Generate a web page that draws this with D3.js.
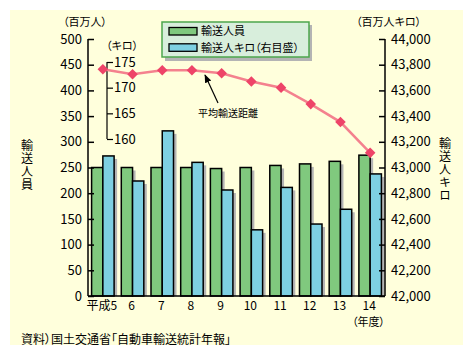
<!DOCTYPE html>
<html><head><meta charset="utf-8">
<script src="https://cdn.jsdelivr.net/npm/d3@7"></script>
<style>body{margin:0;background:#fff}svg{display:block}text{font-family:"Noto Sans CJK JP","Noto Sans",sans-serif;fill:#000}.p{font-feature-settings:"palt"}</style>
</head><body>
<svg id="c" width="473" height="362"></svg>
<script>
const categories = ["平成5","6","7","8","9","10","11","12","13","14"];
const passengers = [250, 250, 250, 250, 248, 250, 254, 257, 262, 274];        // 百万人 (left)
const passengerKm = [43090, 42895, 43285, 43040, 42825, 42515, 42845, 42560, 42675, 42950]; // 百万人キロ (right)
const avgDistance = [173.6, 172.6, 173.4, 173.4, 172.8, 171.2, 170.0, 166.8, 163.3, 157.3]; // キロ (inner)
const leftTicks = [0,50,100,150,200,250,300,350,400,450,500];
const rightTicks = [42000,42200,42400,42600,42800,43000,43200,43400,43600,43800,44000];
const innerTicks = [160,165,170,175];
const seriesNames = ["輸送人員","輸送人キロ（右目盛）"];

const svg = d3.select("#c");
svg.append("rect").attr("x",10).attr("y",10).attr("width",453).attr("height",335).attr("fill","#FFFFDC");

const L = 88, R = 385, T = 39, B = 296;
const x = d3.scaleBand().domain(categories).range([L,R]).paddingInner(0.242).paddingOuter(0.121);
const x1 = d3.scaleBand().domain(["p","k"]).range([0,x.bandwidth()]);
const yL = d3.scaleLinear().domain([0,500]).range([B,T]);
const yR = d3.scaleLinear().domain([42000,44000]).range([B,T]);
const yI = d3.scaleLinear().domain([160,175]).range([139,62]);

const green = "#80C97E", blue = "#7ED0E2", shadow = "#B4B4B4";

// shadows
const sh = svg.append("g");
categories.forEach((c,i)=>{
  sh.append("rect").attr("x",x(c)+x1("p")+3).attr("y",yL(passengers[i])+3).attr("width",x1.bandwidth()).attr("height",B-yL(passengers[i])-3).attr("fill",shadow);
  sh.append("rect").attr("x",x(c)+x1("k")+3).attr("y",yR(passengerKm[i])+3).attr("width",x1.bandwidth()).attr("height",B-yR(passengerKm[i])-3).attr("fill",shadow);
});
const bars = svg.append("g").attr("stroke","#000").attr("stroke-width",1.5);
bars.selectAll(".g").data(categories).join("rect")
  .attr("x",c=>x(c)+x1("p")).attr("y",(c,i)=>yL(passengers[i]))
  .attr("width",x1.bandwidth()).attr("height",(c,i)=>B-yL(passengers[i])).attr("fill",green);
bars.selectAll(".b").data(categories).join("rect")
  .attr("x",c=>x(c)+x1("k")).attr("y",(c,i)=>yR(passengerKm[i]))
  .attr("width",x1.bandwidth()).attr("height",(c,i)=>B-yR(passengerKm[i])).attr("fill",blue);

// axes
const axL = svg.append("g").attr("transform",`translate(${L},0)`)
  .call(d3.axisRight(yL).tickValues(leftTicks).tickSize(6).tickFormat(""));
axL.selectAll("path,line").attr("stroke","#000").attr("stroke-width",1.5);
axL.select(".domain").attr("d",`M0,${T}V${B}`);
svg.append("g").selectAll("text").data(leftTicks).join("text")
  .attr("x",82).attr("y",d=>yL(d)).attr("dy","0.36em").attr("text-anchor","end")
  .style("font-size","13px").text(d=>d);

const axR = svg.append("g").attr("transform",`translate(${R},0)`)
  .call(d3.axisLeft(yR).tickValues(rightTicks).tickSize(6).tickFormat(""));
axR.selectAll("path,line").attr("stroke","#000").attr("stroke-width",1.5);
axR.select(".domain").attr("d",`M0,${T}V${B}`);
svg.append("g").selectAll("text").data(rightTicks).join("text")
  .attr("x",391).attr("y",d=>yR(d)).attr("dy","0.36em").attr("text-anchor","start")
  .style("font-size","13px").text(d=>d3.format(",")(d));

const axI = svg.append("g").attr("transform",`translate(107,0)`)
  .call(d3.axisRight(yI).tickValues(innerTicks).tickSize(6).tickFormat(""));
axI.selectAll("path,line").attr("stroke","#000").attr("stroke-width",1.2);
axI.select(".domain").attr("d",`M0,${yI(175)}V${yI(160)}`);
svg.append("g").selectAll("text").data(innerTicks).join("text")
  .attr("x",114).attr("y",d=>yI(d)).attr("dy","0.36em").style("font-size","13px").text(d=>d);

svg.append("line").attr("x1",L).attr("x2",R).attr("y1",B).attr("y2",B).attr("stroke","#000").attr("stroke-width",1.5);
svg.append("g").selectAll("text").data(categories).join("text")
  .attr("x",c=>x(c)+x.bandwidth()/2-1).attr("y",306).attr("dy","0.36em").attr("text-anchor","middle")
  .style("font-size","12px").text(d=>d);

// line
const xc = c=>x(c)+x.bandwidth()/2;
svg.append("path").datum(avgDistance)
  .attr("d",d3.line().x((d,i)=>xc(categories[i])).y(d=>yI(d)))
  .attr("fill","none").attr("stroke","#F4818E").attr("stroke-width",2.5);
svg.append("g").selectAll("path").data(avgDistance).join("path")
  .attr("d",d3.symbol(d3.symbolSquare,56))
  .attr("transform",(d,i)=>`translate(${xc(categories[i])},${yI(d)}) rotate(45)`)
  .attr("fill","#EE4468");

// annotation
svg.append("defs").append("marker").attr("id","ah").attr("viewBox","0 0 10 10").attr("refX",9).attr("refY",5)
  .attr("markerWidth",7).attr("markerHeight",7).attr("orient","auto")
  .append("path").attr("d","M0,1L10,5L0,9z").attr("fill","#000");
svg.append("line").attr("x1",218).attr("y1",103).attr("x2",205).attr("y2",75)
  .attr("stroke","#000").attr("stroke-width",1.2).attr("marker-end","url(#ah)");
svg.append("text").attr("x",198).attr("y",113).attr("dy","0.36em")
  .style("font-size","10px").text("平均輸送距離");

// legend
svg.append("rect").attr("x",165).attr("y",25).attr("width",147).attr("height",36).attr("fill","#B4B4B4");
svg.append("rect").attr("x",162).attr("y",22).attr("width",147).attr("height",35).attr("fill","#D8EEDC").attr("stroke","#4CA64C").attr("stroke-width",1.5);
[green,blue].forEach((col,i)=>{
  svg.append("rect").attr("x",169).attr("y",27.5+i*16.3).attr("width",28).attr("height",7.5)
    .attr("fill",col).attr("stroke","#000").attr("stroke-width",1.3);
  svg.append("text").attr("class","p").attr("x",201).attr("y",31.5+i*16.3).attr("dy","0.36em").style("font-size","11px").text(seriesNames[i]);
});

// titles
const lab = (txt,x0,y,fs)=>svg.append("text").attr("class","p").attr("x",x0).attr("y",y).attr("dy","0.36em")
  .style("font-size",fs+"px").text(txt);
lab("（百万人）",63,22.5,11);
lab("（キロ）",106,46,11);
lab("（百万人キロ）",356,22.5,11);
lab("（年度）",352,322,11);
lab("資料）国土交通省「自動車輸送統計年報」",21,340,12);

const vt = (str,cx,y0)=>svg.append("text").attr("x",cx).attr("y",y0)
  .style("writing-mode","vertical-rl").style("letter-spacing","1px").style("font-size","12px").text(str);
vt("輸送人員",27,139);
vt("輸送人キロ",445,137);
</script>
</body></html>
